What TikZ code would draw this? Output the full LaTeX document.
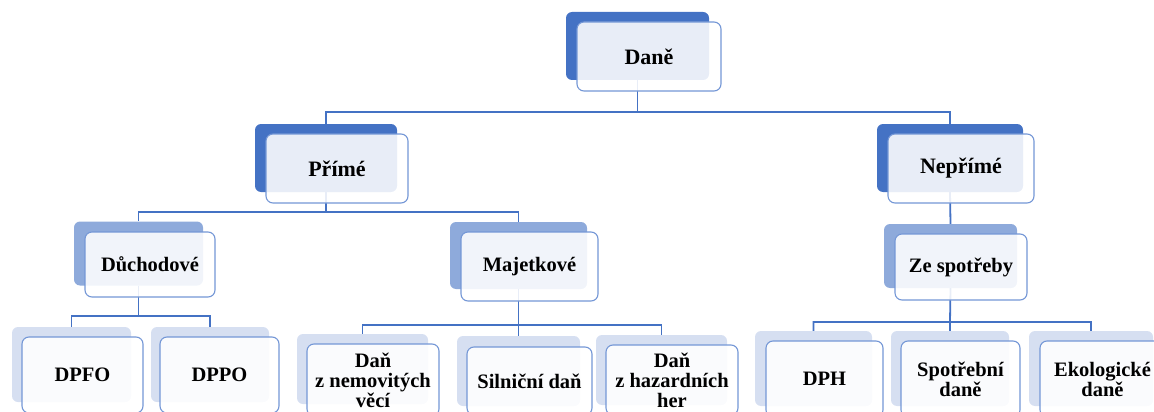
\documentclass[tikz,border=0pt]{standalone}
\usepackage{fontspec}
\setmainfont{Liberation Serif}
\definecolor{dk}{HTML}{4472C4}
\definecolor{md}{HTML}{8EAADB}
\definecolor{lt}{HTML}{D6DFF1}
\definecolor{fb}{HTML}{7497D6}
\begin{document}
\begin{tikzpicture}[x=1pt,y=-1pt,
  backbox/.style={rounded corners=6pt,inner sep=0pt,draw=none},
  backd/.style={backbox,fill=dk},
  backm/.style={backbox,fill=md},
  backl/.style={backbox,fill=lt},
  frontbox/.style={rounded corners=7pt,inner sep=0pt,draw=fb,line width=1.1pt,fill=white,fill opacity=0.88,text opacity=1,align=center,font=\bfseries\fontsize{20.5}{20}\selectfont},
  bigtxt/.style={font=\bfseries\fontsize{22}{22}\selectfont},
  conn/.style={draw=dk,line width=1.8pt}]
\useasboundingbox (0,0) rectangle (1154,412);
% back boxes
\node[backd,minimum width=143pt,minimum height=68pt] (daneb) at (637.5,46) {};
\node[backd,minimum width=142pt,minimum height=68pt] (primeb) at (326,158) {};
\node[backd,minimum width=146pt,minimum height=68pt] (neprb) at (950,158) {};
\node[backm,minimum width=129pt,minimum height=64pt] (duchb) at (138.5,253.5) {};
\node[backm,minimum width=137pt,minimum height=67pt] (majb) at (518.5,255.5) {};
\node[backm,minimum width=133pt,minimum height=64pt] (zesb) at (950.5,256) {};
\node[backl,minimum width=119pt,minimum height=75pt] (dpfob) at (71.5,364.5) {};
\node[backl,minimum width=118pt,minimum height=75pt] (dppob) at (210,364.5) {};
\node[backl,minimum width=131pt,minimum height=70pt] (nemb) at (362.5,369) {};
\node[backl,minimum width=123pt,minimum height=70pt] (silb) at (518.5,371) {};
\node[backl,minimum width=131pt,minimum height=70pt] (hazb) at (661.5,370) {};
\node[backl,minimum width=117pt,minimum height=75pt] (dphb) at (813.5,368.5) {};
\node[backl,minimum width=118pt,minimum height=75pt] (spob) at (950,368.5) {};
\node[backl,minimum width=124pt,minimum height=75pt] (ekob) at (1091,368.5) {};
% junctions
\coordinate (j0) at (637.5,112);
\coordinate (j1) at (326,212);
\coordinate (j2) at (138.5,316);
\coordinate (j3) at (518.5,325);
\coordinate (j4) at (950,322);
% connectors
\draw[conn] (daneb.south) -- (j0) -| (primeb.north);
\draw[conn] (j0) -| (neprb.north);
\draw[conn] (primeb.south) -- (j1) -| (duchb.north);
\draw[conn] (j1) -| (majb.north);
\draw[conn] (neprb.south) -- (zesb.north);
\draw[conn] (duchb.south) -- (j2) -| (dpfob.north);
\draw[conn] (j2) -| (dppob.north);
\draw[conn] (majb.south) -- (j3) -| (nemb.north);
\draw[conn] (j3) -| (hazb.north);
\draw[conn] (j3) -- (silb.north);
\draw[conn] (zesb.south) -- (j4) -| (dphb.north);
\draw[conn] (j4) -| (ekob.north);
\draw[conn] (j4) -- (spob.north);
% front boxes
\node[frontbox,bigtxt,minimum width=144pt,minimum height=69pt] (dane) at (649,56.5) {Daně};
\node[frontbox,bigtxt,minimum width=142pt,minimum height=69pt] (prime) at (337,168.5) {Přímé};
\node[frontbox,bigtxt,minimum width=146pt,minimum height=69pt] (nepr) at (961,168.5) {Nepřímé};
\node[frontbox,minimum width=130pt,minimum height=65pt] (duch) at (150,264.5) {Důchodové};
\node[frontbox,minimum width=137pt,minimum height=69pt] (maj) at (529.5,266.5) {Majetkové};
\node[frontbox,minimum width=132pt,minimum height=66pt] (zes) at (961,267) {Ze spotřeby};
\node[frontbox,minimum width=121pt,minimum height=76pt] (dpfo) at (82.5,375) {DPFO};
\node[frontbox,minimum width=119pt,minimum height=76pt] (dppo) at (219.5,375) {DPPO};
\node[frontbox,minimum width=132pt,minimum height=72pt] (nem) at (373,380) {Daň\\z nemovitých\\věcí};
\node[frontbox,minimum width=125pt,minimum height=68pt] (sil) at (529.5,381) {Silniční daň};
\node[frontbox,minimum width=132pt,minimum height=70pt] (haz) at (672,380) {Daň\\z hazardních\\her};
\node[frontbox,minimum width=117pt,minimum height=76pt] (dph) at (824.5,379) {DPH};
\node[frontbox,minimum width=119pt,minimum height=76pt] (spo) at (960.5,379) {Spotřební\\daně};
\node[frontbox,minimum width=125pt,minimum height=76pt] (eko) at (1102.5,379) {Ekologické\\daně};
\end{tikzpicture}
\end{document}
